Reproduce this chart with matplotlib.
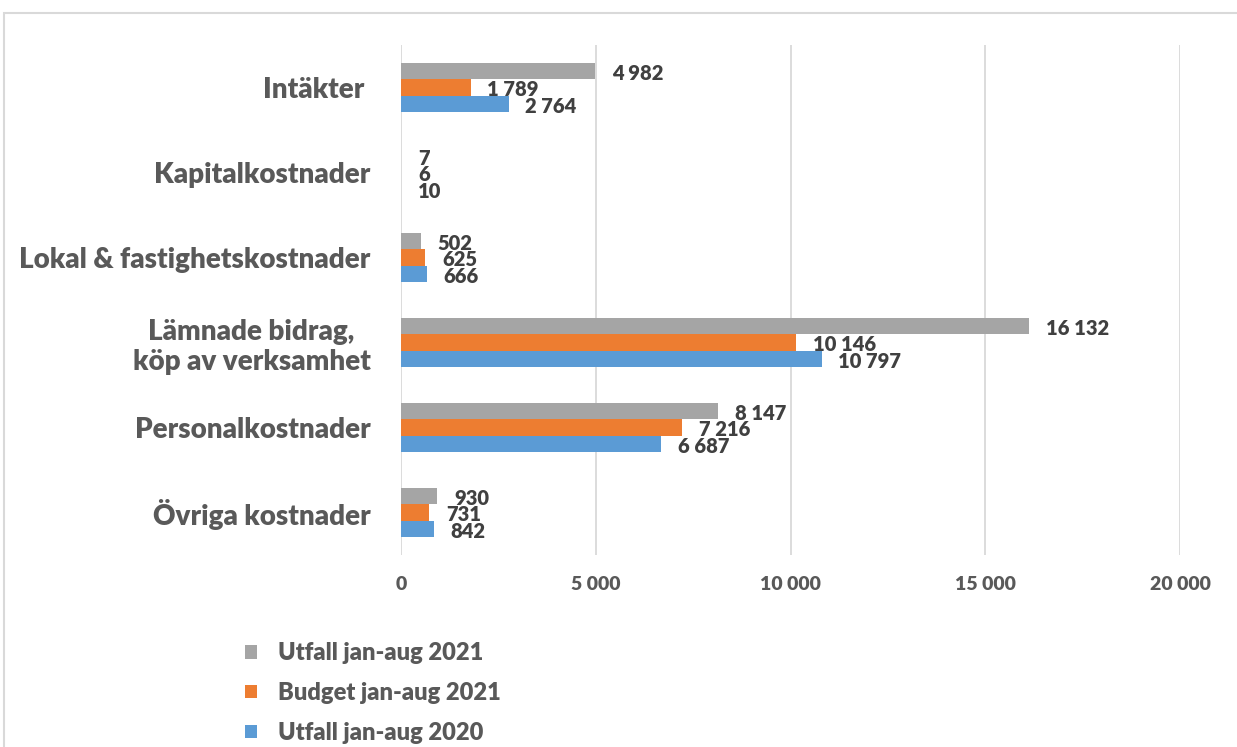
import matplotlib.pyplot as plt
import matplotlib.patches as patches
import numpy as np

categories = ['Intäkter ', 'Kapitalkostnader', 'Lokal & fastighetskostnader',
              'Lämnade bidrag,\nköp av verksamhet', 'Personalkostnader', 'Övriga kostnader']
utfall_2021 = [4982, 7, 502, 16132, 8147, 930]
budget_2021 = [1789, 6, 625, 10146, 7216, 731]
utfall_2020 = [2764, 10, 666, 10797, 6687, 842]
series_names = ['Utfall jan-aug 2021', 'Budget jan-aug 2021', 'Utfall jan-aug 2020']
colors = ['#A5A5A5', '#ED7D31', '#5B9BD5']
xticks = [0, 5000, 10000, 15000, 20000]


def fmt(v):
    return f'{v:,}'.replace(',', ' ')


plt.rcParams['font.family'] = ['Lato', 'DejaVu Sans']
plt.rcParams['font.weight'] = 'heavy'

fig = plt.figure(figsize=(12.37, 7.47), dpi=100)
ax = fig.add_axes([401 / 1237, 1 - 555 / 747, 779 / 1237, 510 / 747])

y = np.arange(len(categories))
h = 0.194
series = [utfall_2021, budget_2021, utfall_2020]
for i, (vals, col, name) in enumerate(zip(series, colors, series_names)):
    pos = y + (i - 1) * h
    ax.barh(pos, vals, height=h, color=col, label=name, zorder=3)
    for p, v in zip(pos, vals):
        ax.annotate(fmt(v), (v, p), xytext=(12, -1.5), textcoords='offset points',
                    va='center', ha='left', fontsize=14.5, fontweight='heavy',
                    color='#404040', zorder=4)

ax.set_xlim(0, 20000)
ax.set_ylim(len(categories) - 0.5, -0.5)
ax.set_xticks(xticks)
ax.set_xticklabels([fmt(t) for t in xticks])
ax.set_yticks(y)
ax.set_yticklabels(categories, multialignment='center')
ax.tick_params(axis='x', length=0, pad=15, labelsize=14, labelcolor='#595959')
ax.tick_params(axis='y', length=0, pad=22, labelsize=20, labelcolor='#595959')
ax.grid(axis='x', color='#D9D9D9', linewidth=1.3, zorder=0)
for s in ax.spines.values():
    s.set_visible(False)

border = patches.Rectangle((4 / 1237, -0.1), 1.2, 1.1 - 13 / 747, transform=fig.transFigure,
                           fill=False, edgecolor='#D9D9D9', linewidth=1.5, clip_on=False)
fig.patches.append(border)

leg = fig.legend(loc='upper left', bbox_to_anchor=(0.198, 0.140), frameon=False,
                 fontsize=17, handlelength=0.5, handleheight=0.5, handletextpad=0.9,
                 labelspacing=0.75, borderpad=0, borderaxespad=0)
for t in leg.get_texts():
    t.set_color('#595959')

fig.savefig('out.png', dpi=100)
